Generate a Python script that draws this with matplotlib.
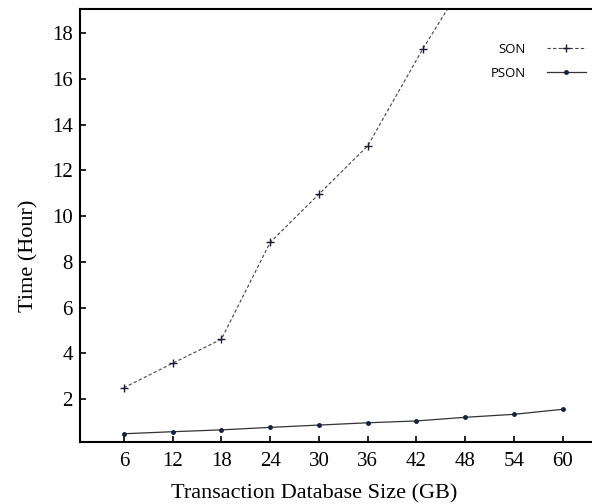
import matplotlib.pyplot as plt

sizes = [6, 12, 18, 24, 30, 36, 42, 48, 54, 60]
# SON marker at "42" sits a little right of its tick in the original
son_sizes = [6, 12, 18, 24, 30, 36, 42.75, 48]
son_hours = [2.5, 3.57, 4.62, 8.85, 10.96, 13.07, 17.29, 20.3]
pson_hours = [0.49, 0.58, 0.66, 0.77, 0.87, 0.97, 1.05, 1.21, 1.34, 1.56]
y_ticks = [2, 4, 6, 8, 10, 12, 14, 16, 18]

fig = plt.figure(figsize=(5.92, 5.04), dpi=100)
ax = fig.add_axes([0.135, 0.123, 0.865, 0.859])

ax.plot(son_sizes, son_hours, linestyle=(0, (3, 2)), color="#444444",
        linewidth=0.8, marker="+", markersize=6, markeredgewidth=1.0,
        markeredgecolor="#1a1a33", label="SON")
ax.plot(sizes, pson_hours, linestyle="-", color="#333333", linewidth=0.9,
        marker=".", markersize=5, markerfacecolor="#14213d",
        markeredgecolor="#14213d", label="PSON")

ax.set_xlim(0.6, 63.6)
ax.set_ylim(0.13, 19.05)
ax.set_xticks(sizes)
ax.set_yticks(y_ticks)

serif = "Liberation Serif"
for lab in ax.get_xticklabels() + ax.get_yticklabels():
    lab.set_fontfamily(serif)
    lab.set_fontsize(15)
ax.tick_params(direction="in", length=4, width=1.2, pad=5)
ax.tick_params(axis="x", pad=7)
ax.spines["right"].set_visible(False)
for s in ["left", "bottom", "top"]:
    ax.spines[s].set_linewidth(1.5)

ax.set_xlabel("Transaction Database Size (GB)", fontfamily=serif, fontsize=16,
              labelpad=10, x=0.458)
ax.set_ylabel("Time (Hour)", fontfamily=serif, fontsize=16, labelpad=10, y=0.431)

leg = ax.legend(loc="upper right", bbox_to_anchor=(1.012, 0.950), frameon=False,
                markerfirst=False, prop={"family": "Open Sans", "size": 9.5},
                handlelength=3.0, labelspacing=0.85, handletextpad=1.6)

fig.savefig("out.png", dpi=100)
